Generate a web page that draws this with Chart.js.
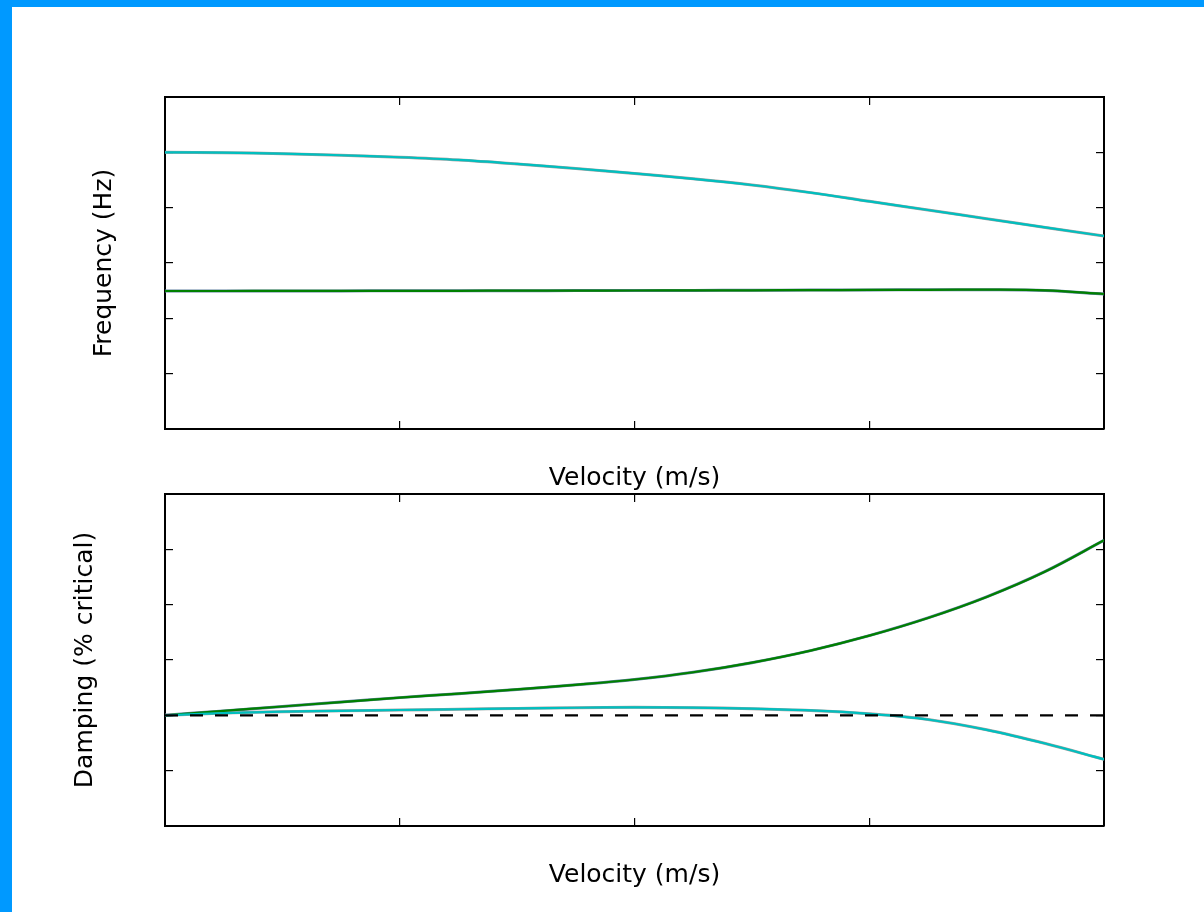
<!DOCTYPE html>
<html><head><meta charset="utf-8">
<script src="https://cdn.jsdelivr.net/npm/chart.js@4.4.0/dist/chart.umd.min.js"></script>
<style>
html,body{margin:0;padding:0;background:#fff;width:1204px;height:912px;overflow:hidden;}
#wrap{position:relative;width:1204px;height:912px;background:#fff;}
canvas{position:absolute;left:0;top:0;}
.bar{position:absolute;background:#0099ff;z-index:5;}
</style></head><body>
<div id="wrap">
<canvas id="c1" width="1204" height="912"></canvas>
<canvas id="c2" width="1204" height="912"></canvas>
<div class="bar" style="left:0;top:0;width:1204px;height:7px"></div>
<div class="bar" style="left:0;top:0;width:12px;height:912px"></div>
</div>
<script>
// ---- data (axes carry no numeric labels) ----
const velocity   = [0, 0.25, 0.5, 0.75, 1, 1.25, 1.5, 1.75, 2, 2.25, 2.5, 2.75, 3, 3.25, 3.5, 3.75, 4];
const freqMode1  = [5.001, 4.994, 4.975, 4.947, 4.911, 4.862, 4.790, 4.708, 4.618, 4.522, 4.410, 4.272, 4.114, 3.958, 3.800, 3.643, 3.488];
const freqMode2  = [2.494, 2.494, 2.495, 2.496, 2.497, 2.498, 2.500, 2.501, 2.503, 2.505, 2.507, 2.510, 2.513, 2.516, 2.518, 2.505, 2.440];
const dampMode1  = [0, 0.040, 0.066, 0.082, 0.096, 0.110, 0.125, 0.137, 0.145, 0.138, 0.121, 0.088, 0.027, -0.075, -0.262, -0.510, -0.795];
const dampMode2  = [0, 0.080, 0.160, 0.240, 0.320, 0.392, 0.468, 0.552, 0.648, 0.778, 0.952, 1.170, 1.440, 1.760, 2.140, 2.600, 3.163];
const zeroVel    = [0, 4];
const zeroDamp   = [0, 0];
const xRange     = [0, 4];
const freqRange  = [0, 6];
const dampRange  = [-2, 4];

const FONT = {family: 'DejaVu Sans', size: 25};
const pts = (xs, ys) => xs.map((x, i) => ({x: x, y: ys[i]}));

function gridOpts() {
  return {drawOnChartArea: false, color: '#000', lineWidth: 1.2, tickLength: -8, drawTicks: true};
}
function borderOpts() { return {display: true, color: '#000', width: 2}; }

function scales(yr, yTitle, yTitleOffset) {
  return {
    x: {type: 'linear', position: 'bottom', min: xRange[0], max: xRange[1],
        ticks: {display: false, stepSize: 1}, grid: gridOpts(), border: borderOpts(),
        title: {display: true, text: 'Velocity (m/s)', color: '#000', font: FONT, padding: 0},
        afterFit(s) { s.height = 64; }},
    x2: {type: 'linear', position: 'top', min: xRange[0], max: xRange[1],
        ticks: {display: false, stepSize: 1}, grid: gridOpts(), border: borderOpts(),
        afterFit(s) { s.height = 0; }},
    y: {type: 'linear', position: 'left', min: yr[0], max: yr[1],
        ticks: {display: false, stepSize: 1}, grid: gridOpts(), border: borderOpts(),
        title: {display: true, text: yTitle, color: '#000', font: FONT, padding: {top: yTitleOffset, bottom: 0}},
        afterFit(s) { s.width = 165; }},
    y2: {type: 'linear', position: 'right', min: yr[0], max: yr[1],
        ticks: {display: false, stepSize: 1}, grid: gridOpts(), border: borderOpts(),
        afterFit(s) { s.width = 0; }}
  };
}

function line(data, color, width, extra) {
  return Object.assign({data: data, borderColor: color, borderWidth: width, pointRadius: 0,
    fill: false, tension: 0.35, borderCapStyle: 'butt'}, extra || {});
}

const common = {
  responsive: false, animation: false,
  plugins: {legend: {display: false}, tooltip: {enabled: false}},
  events: []
};

new Chart(document.getElementById('c1'), {
  type: 'line',
  data: {datasets: [
    line(pts(velocity, freqMode1), '#00bfbf', 2.2),
    line(pts(velocity, freqMode2), '#008000', 2.2),
    line(pts(velocity, freqMode1), '#a0a0a0', 3),
    line(pts(velocity, freqMode2), '#6080a0', 3)
  ]},
  options: Object.assign({}, common, {
    layout: {padding: {left: 0, top: 97, right: 100, bottom: 912 - 493}},
    scales: scales(freqRange, 'Frequency (Hz)', 89)
  })
});

new Chart(document.getElementById('c2'), {
  type: 'line',
  data: {datasets: [
    line(pts(zeroVel, zeroDamp), '#000', 2.4, {borderDash: [13, 12], tension: 0}),
    line(pts(velocity, dampMode1), '#00bfbf', 2.2),
    line(pts(velocity, dampMode2), '#008000', 2.2),
    line(pts(velocity, dampMode1), '#a0a0a0', 3),
    line(pts(velocity, dampMode2), '#6080a0', 3)
  ]},
  options: Object.assign({}, common, {
    layout: {padding: {left: 0, top: 494, right: 100, bottom: 912 - 890}},
    scales: scales(dampRange, 'Damping (% critical)', 70)
  })
});
</script>
</body></html>
